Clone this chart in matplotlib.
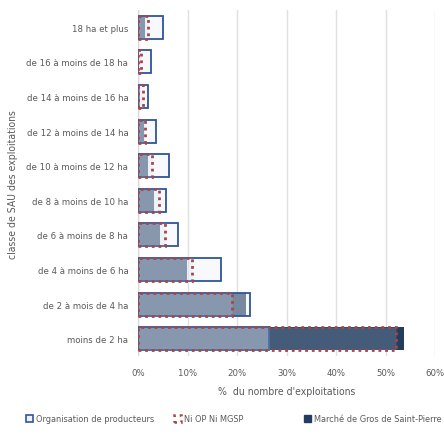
import numpy as np
import matplotlib.pyplot as plt
from matplotlib.patches import Patch

plt.rcParams['font.family'] = ['DejaVu Sans']
plt.rcParams['font.stretch'] = 'condensed'

#====================== DATA ======================

classes = ["moins de 2 ha", "de 2 à mois de 4 ha", "de 4 à moins de 6 ha",
           "de 6 à moins de 8 ha", "de 8 à moins de 10 ha", "de 10 à moins de 12 ha",
           "de 12 à moins de 14 ha", "de 14 à moins de 16 ha", "de 16 à moins de 18 ha",
           "18 ha et plus"]

op = [26.5, 22.7, 16.7, 8.0, 5.6, 6.2, 3.6, 2.0, 2.6, 5.0]
ni_op = [52.2, 19.0, 11.0, 5.5, 4.3, 2.8, 1.5, 1.0, 0.6, 2.0]
mgsp = [53.8, 21.8, 9.8, 4.5, 3.2, 2.1, 1.3, 0.5, 0.3, 1.5]

xticks = [0, 10, 20, 30, 40, 50, 60]

#====================== PLOT ======================

grey = '#595959'
y = np.arange(len(classes))
h = 0.67

fig = plt.figure(figsize=(4.44, 4.39), dpi=100)
ax = fig.add_axes([138/444, 1 - 357/439, 297/444, 346/439])

ax.barh(y, mgsp, height=h, color=(36/255, 61/255, 94/255), zorder=2)
ax.barh(y, op, height=h, color=(238/255, 242/255, 248/255, 0.42),
        edgecolor='#2f5597', linewidth=1.3, zorder=3)
ax.barh(y, ni_op, height=h, color=(200/255, 215/255, 235/255, 0.2),
        edgecolor='#a84646', linewidth=2.0, linestyle=(0, (1, 1.4)), zorder=4)

ax.set_xlim(0, 60)
ax.set_ylim(-0.5, len(classes) - 0.5)
ax.set_xticks(xticks)
ax.set_xticklabels([f"{v}%" for v in xticks], color=grey, fontsize=6.8)
ax.set_yticks(y)
ax.set_yticklabels(classes, color=grey, fontsize=6.8)
ax.tick_params(length=0, pad=7)
ax.tick_params(axis='x', pad=9)
ax.grid(axis='x', color='#e0e0e0', linewidth=1, zorder=0)
ax.set_axisbelow(True)
for s in ax.spines.values():
    s.set_visible(False)
ax.axvline(0, color='#d9d9d9', linewidth=1, zorder=1)

ax.set_xlabel("%  du nombre d'exploitations", color=grey, fontsize=7.5, labelpad=6)
fig.text(13/444, 1 - 185/439, "classe de SAU des exploitations", rotation=90,
         color=grey, fontsize=7.5, ha='center', va='center')

# legend entries placed like the original (uneven spacing)
handles = [Patch(facecolor='#eef2f8', edgecolor='#2f5597', linewidth=1.2),
           Patch(facecolor='white', edgecolor='#a84646', linewidth=1.8, linestyle=':'),
           Patch(facecolor='#243d5e', edgecolor='#243d5e')]
labels = ["Organisation de producteurs", "Ni OP Ni MGSP", "Marché de Gros de Saint-Pierre"]
xpos = [26, 174, 304]
for hd, lb, xp in zip(handles, labels, xpos):
    leg = fig.legend([hd], [lb], loc='center left', bbox_to_anchor=(xp/444, 1 - 420/439),
                     frameon=False, fontsize=6.6, handlelength=0.8, handleheight=0.8,
                     handletextpad=0.3, borderaxespad=0, borderpad=0)
    for t in leg.get_texts():
        t.set_color(grey)

fig.savefig('out.png', dpi=100)
